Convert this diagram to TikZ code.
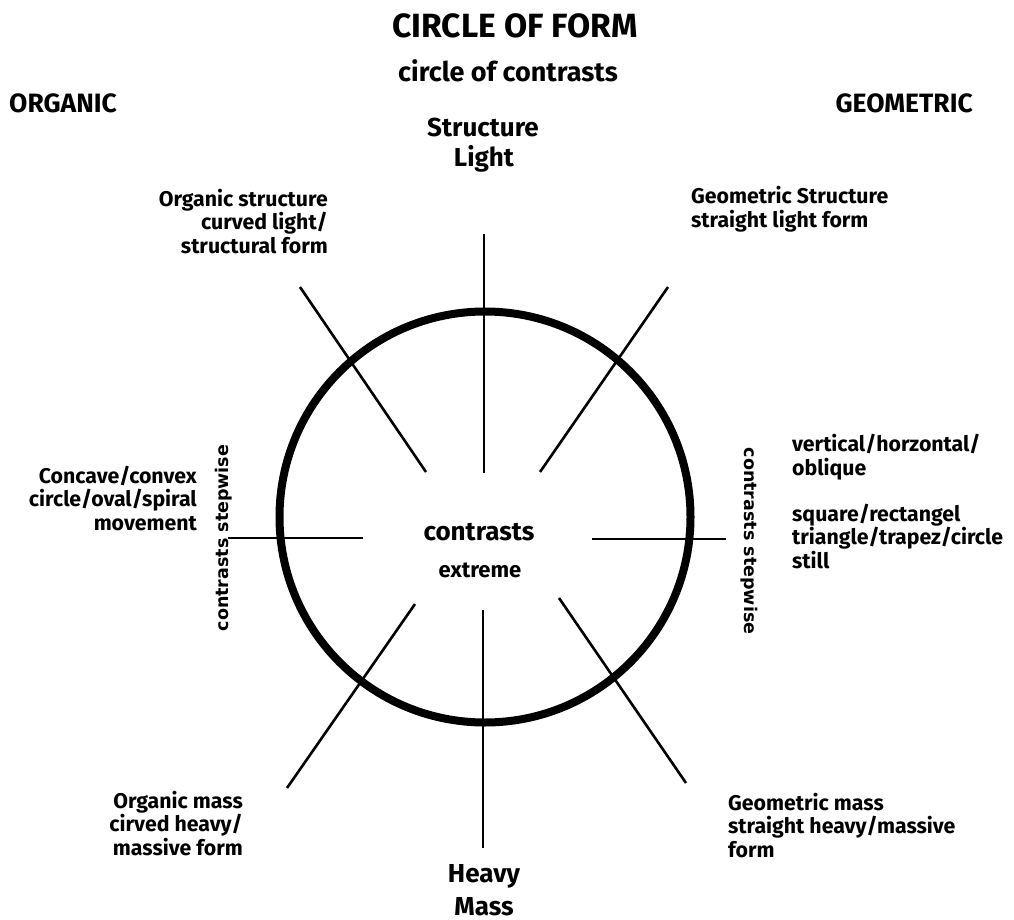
\documentclass[tikz,border=0pt]{standalone}
\usepackage{fontspec}
\setmainfont{Fira Sans}
\newfontfamily\stepfont{DejaVu Sans}
\begin{document}
\begin{tikzpicture}[x=1pt,y=-1pt,
  lbl/.style={inner sep=0pt,font=\fontsize{21.3}{23.3}\selectfont\bfseries},
  big/.style={inner sep=0pt,font=\fontsize{26.5}{30}\selectfont\bfseries},
  axis/.style={inner sep=0pt,font=\fontsize{26}{30}\selectfont\bfseries,align=center},
  steptxt/.style={inner sep=0pt,font=\fontsize{17.5}{20}\selectfont\bfseries\stepfont},
  spoke/.style={line width=2.6pt},
  ring/.style={line width=8pt}]
\useasboundingbox (0,0) rectangle (1014,920);
% circle
\node[circle,draw,ring,minimum size=411pt,inner sep=0pt] (ring) at (485,517) {};
% spokes
\coordinate (t1) at (484,234); \coordinate (t2) at (484,473);
\coordinate (b1) at (483,610); \coordinate (b2) at (483,848);
\coordinate (l1) at (228,538); \coordinate (l2) at (363,538);
\coordinate (r1) at (592,539); \coordinate (r2) at (726,539);
\coordinate (ul1) at (300,287); \coordinate (ul2) at (426,472);
\coordinate (ur1) at (668,287); \coordinate (ur2) at (540,472);
\coordinate (ll1) at (415,604); \coordinate (ll2) at (287,788);
\coordinate (lr1) at (559,598); \coordinate (lr2) at (686,783);
\draw[spoke] (t1) -- (t2);
\draw[spoke] (b1) -- (b2);
\draw[spoke] (l1) -- (l2);
\draw[spoke] (r1) -- (r2);
\draw[spoke] (ul1) -- (ul2);
\draw[spoke] (ur1) -- (ur2);
\draw[spoke] (ll1) -- (ll2);
\draw[spoke] (lr1) -- (lr2);
% titles
\node[inner sep=0pt,anchor=base,font=\fontsize{33.6}{36}\selectfont\bfseries] (title) at (515,38) {CIRCLE OF FORM};
\node[inner sep=0pt,anchor=base,font=\fontsize{27}{30}\selectfont\bfseries] (sub) at (508,82) {circle of contrasts};
\node[big,anchor=base west] (org) at (9,113) {ORGANIC};
\node[big,anchor=base east] (geo) at (973,113) {GEOMETRIC};
\node[axis,anchor=base] (struct) at (483,137) {Structure};
\node[axis,anchor=base] (light) at (484,167) {Light};
\node[axis,anchor=base] (heavy) at (484,882) {Heavy};
\node[axis,anchor=base] (mass) at (484,915) {Mass};
% corner labels (base = last line)
\node[lbl,align=right,anchor=base east] (os) at (328,253) {Organic structure\\curved light/\\structural form};
\node[lbl,align=left,anchor=base west] (gs) at (691,227) {Geometric Structure\\straight light form};
\node[lbl,align=right,anchor=base east] (cc) at (197,530) {Concave/convex\\circle/oval/spiral\\movement};
\node[lbl,align=left,anchor=base west] (vh) at (792,475) {vertical/horzontal/\\oblique};
\node[lbl,align=left,anchor=base west] (sq) at (792,568) {square/rectangel\\triangle/trapez/circle\\still};
\node[lbl,align=right,anchor=base east] (om) at (243,855) {Organic mass\\cirved heavy/\\massive form};
\node[lbl,align=left,anchor=base west] (gm) at (728,857) {Geometric mass\\straight heavy/massive\\form};
% centre
\node[inner sep=0pt,anchor=base,font=\fontsize{26}{28}\selectfont\bfseries] (con) at (479,540) {contrasts};
\node[inner sep=0pt,anchor=base,font=\fontsize{22}{24}\selectfont\bfseries] (ext) at (480,577) {extreme};
% rotated
\node[steptxt,rotate=90] (csl) at (224,538) {contrasts stepwise};
\node[steptxt,rotate=-90] (csr) at (749,541) {contrasts stepwise};
\end{tikzpicture}
\end{document}
